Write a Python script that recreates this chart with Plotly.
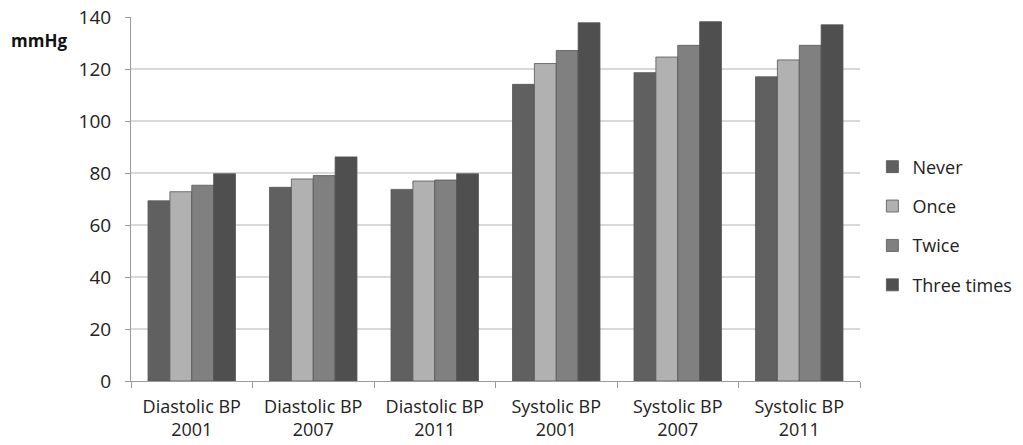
import plotly.graph_objects as go

categories = ["Diastolic BP<br>2001", "Diastolic BP<br>2007", "Diastolic BP<br>2011",
              "Systolic BP<br>2001", "Systolic BP<br>2007", "Systolic BP<br>2011"]
never = [69.3, 74.5, 73.7, 114.1, 118.6, 117.0]
once = [72.8, 77.7, 76.9, 122.1, 124.6, 123.5]
twice = [75.3, 79.0, 77.3, 127.1, 129.1, 129.1]
three_times = [79.7, 86.2, 79.7, 137.8, 138.2, 137.0]

series = [("Never", never, "#606060"), ("Once", once, "#b1b1b1"),
          ("Twice", twice, "#808080"), ("Three times", three_times, "#4f4f4f")]

FONT = "Open Sans"
fig = go.Figure()
for i, (name, vals, col) in enumerate(series):
    fig.add_trace(go.Bar(x=categories, y=vals, name=name, legendgroup=str(i),
                         marker=dict(color=col, line=dict(color="#555555", width=0.8))))

fig.update_layout(
    width=1023, height=445,
    margin=dict(l=131, r=163, t=17, b=64, autoexpand=False),
    paper_bgcolor="white", plot_bgcolor="white",
    barmode="group", bargap=0.28, bargroupgap=0,
    font=dict(family=FONT, size=18, color="#222222"),
    legend=dict(x=1.017, y=0.426, yanchor="middle", xanchor="left",
                tracegroupgap=13, font=dict(size=18, color="#222222"),
                itemwidth=30),
    showlegend=True,
    annotations=[dict(text="<b>mmHg</b>", xref="paper", yref="paper", x=-0.168, y=0.935,
                      xanchor="left", yanchor="middle", showarrow=False,
                      font=dict(size=17, color="#111111", family=FONT))],
)
fig.update_yaxes(range=[0, 140], dtick=20, showgrid=True, gridcolor="#d9d9d9", gridwidth=1.5,
                 showline=True, linecolor="#9a9a9a", linewidth=1, ticks="outside", ticklen=5,
                 tickcolor="#9a9a9a", zeroline=False, tickfont=dict(size=19),
                 ticklabelstandoff=10)
fig.update_xaxes(showline=True, linecolor="#9a9a9a", linewidth=1, ticks="outside", ticklen=6,
                 tickcolor="#9a9a9a", tickson="boundaries", tickfont=dict(size=18),
                 ticklabelstandoff=9)

fig.write_html("out.html")
